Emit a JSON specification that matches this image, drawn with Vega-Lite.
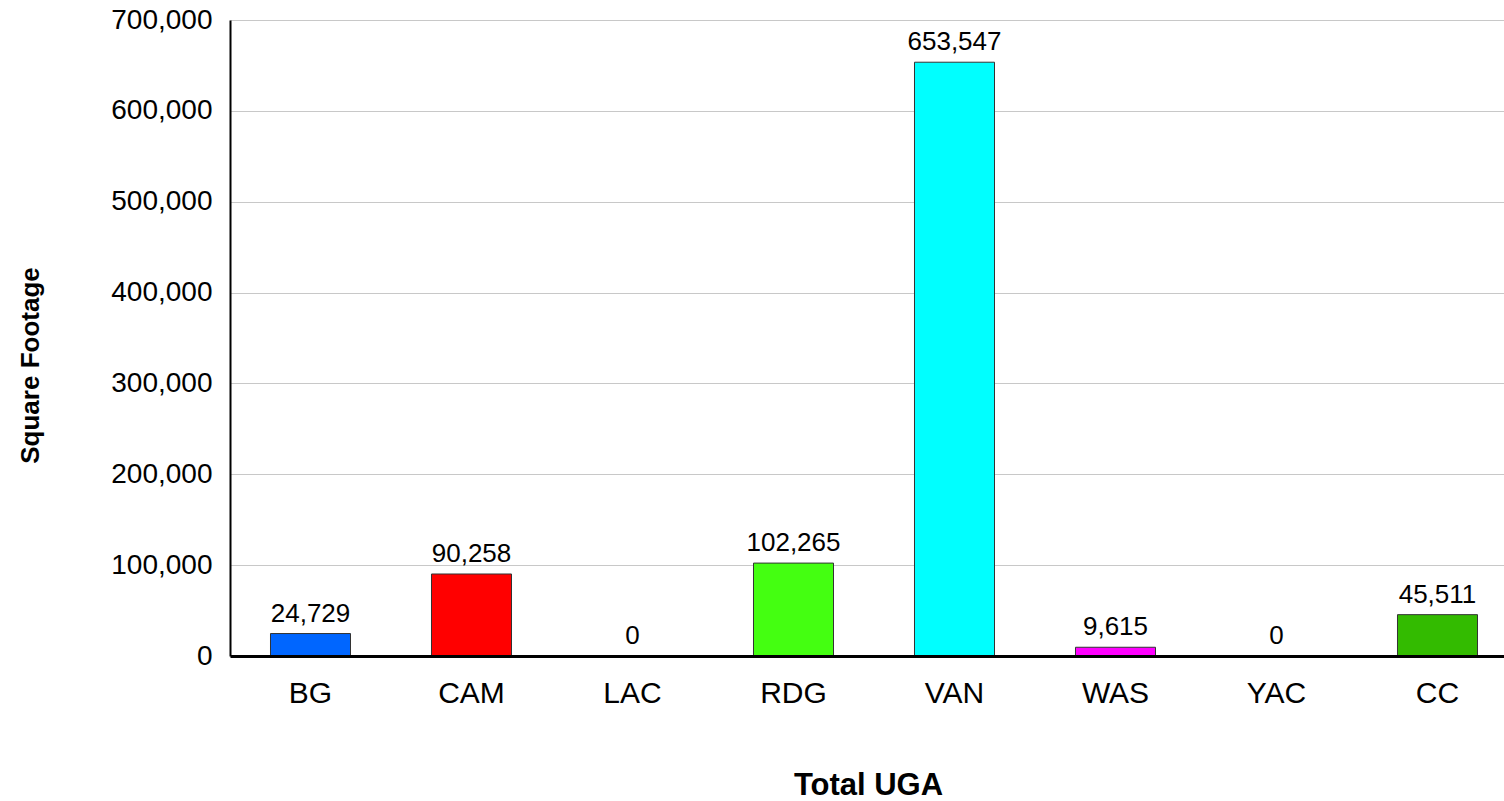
{
  "$schema": "https://vega.github.io/schema/vega-lite/v6.json",
  "autosize": "none",
  "width": 1274,
  "height": 636,
  "padding": {"left": 230, "top": 20, "right": 0, "bottom": 145},
  "background": "white",
  "config": {
    "font": "Liberation Sans",
    "view": {"stroke": null}
  },
  "data": {
    "values": [
      {"region": "BG", "sqft": 24729},
      {"region": "CAM", "sqft": 90258},
      {"region": "LAC", "sqft": 0},
      {"region": "RDG", "sqft": 102265},
      {"region": "VAN", "sqft": 653547},
      {"region": "WAS", "sqft": 9615},
      {"region": "YAC", "sqft": 0},
      {"region": "CC", "sqft": 45511}
    ]
  },
  "encoding": {
    "x": {
      "field": "region",
      "type": "nominal",
      "sort": null,
      "scale": {"range": [0, 1288], "paddingInner": 0.503, "paddingOuter": 0.2515},
      "axis": {
        "title": "Total UGA",
        "titleFont": "Liberation Sans",
        "titleFontSize": 31,
        "titleFontWeight": "bold",
        "titleColor": "black",
        "titleBaseline": "alphabetic",
        "titleAlign": "center",
        "titleX": 638,
        "titleY": 138,
        "labelAngle": 0,
        "labelFontSize": 30,
        "labelColor": "black",
        "labelPadding": 22,
        "ticks": false,
        "tickSize": 0,
        "domainColor": "black",
        "domainWidth": 3,
        "grid": false,
        "zindex": 1
      }
    },
    "y": {
      "field": "sqft",
      "type": "quantitative",
      "scale": {"domain": [0, 700000], "nice": false},
      "axis": {
        "title": "Square Footage",
        "titleFontSize": 26,
        "titleFontWeight": "bold",
        "titleColor": "black",
        "titleAngle": -90,
        "titleBaseline": "alphabetic",
        "titleAlign": "center",
        "titleX": -192,
        "titleY": 345,
        "values": [0, 100000, 200000, 300000, 400000, 500000, 600000, 700000],
        "format": ",.0f",
        "labelFontSize": 28,
        "labelColor": "black",
        "labelPadding": 18,
        "ticks": false,
        "tickSize": 0,
        "domainColor": "black",
        "domainWidth": 2,
        "grid": true,
        "gridColor": "#c8c8c8",
        "gridWidth": 1
      }
    }
  },
  "layer": [
    {
      "mark": {"type": "bar", "stroke": "#333333", "strokeWidth": 1},
      "encoding": {
        "color": {
          "field": "region",
          "type": "nominal",
          "legend": null,
          "scale": {
            "domain": ["BG", "CAM", "LAC", "RDG", "VAN", "WAS", "YAC", "CC"],
            "range": ["#0066FF", "#FF0000", "#FFCC00", "#44FF11", "#00FFFF", "#FF00FF", "#996633", "#33BB00"]
          }
        }
      }
    },
    {
      "mark": {"type": "text", "baseline": "alphabetic", "dy": -12, "fontSize": 26, "color": "black"},
      "encoding": {
        "text": {"field": "sqft", "type": "quantitative", "format": ",.0f"}
      }
    }
  ]
}
